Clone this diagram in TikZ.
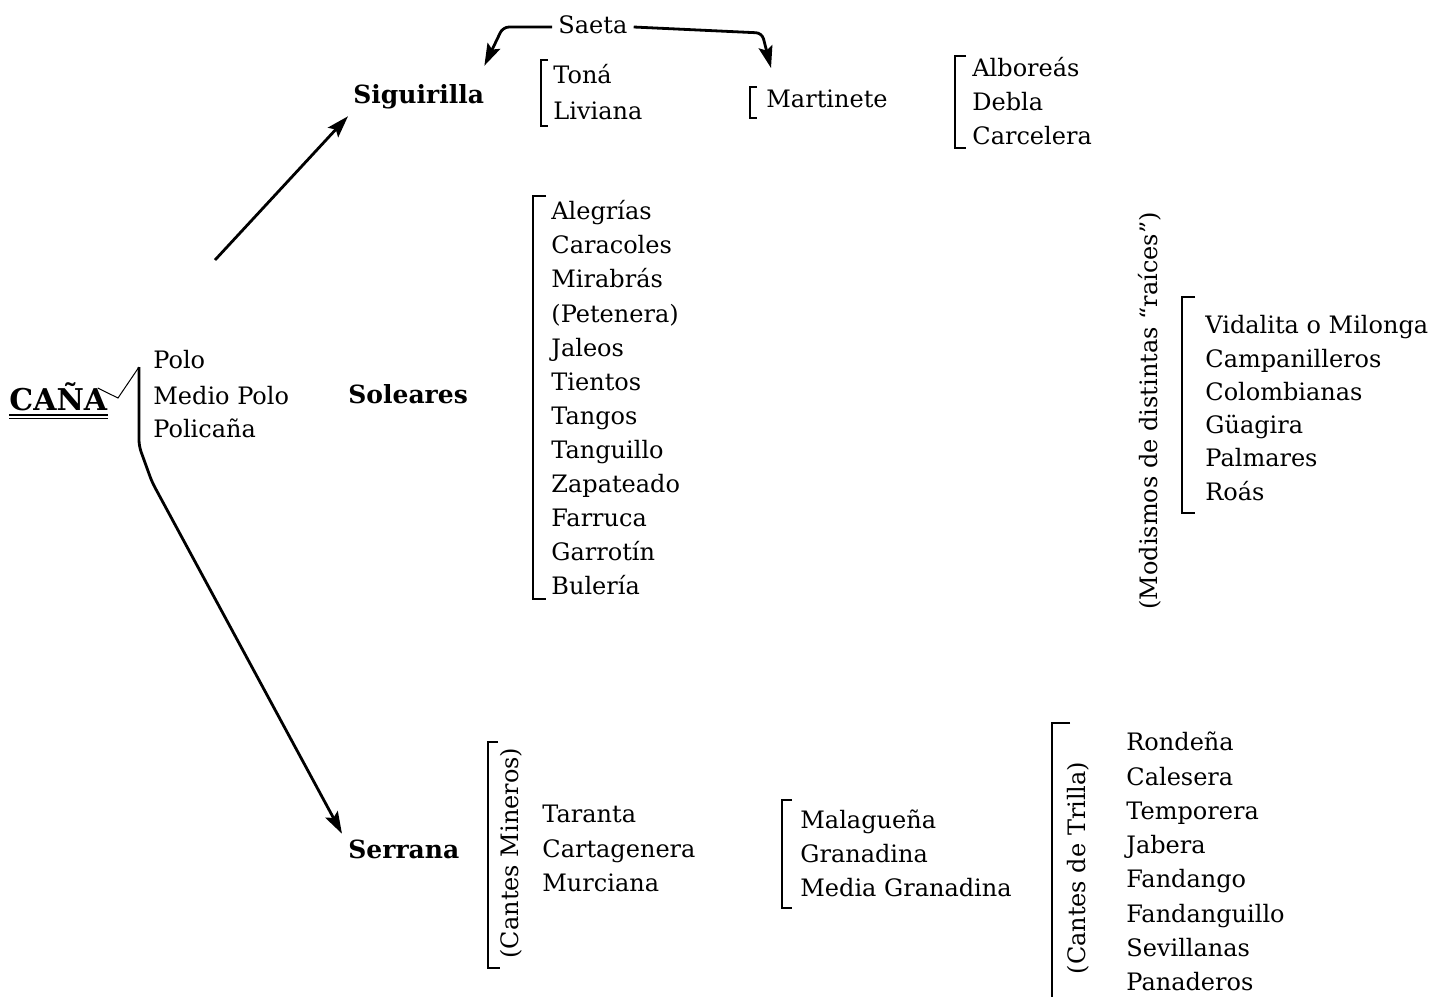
\documentclass[tikz,border=0pt]{standalone}
\usepackage{fontspec}
\setmainfont{DejaVu Serif}
\usetikzlibrary{arrows.meta}
\begin{document}
\begin{tikzpicture}[x=0.5pt,y=-0.5pt,
  item/.style={anchor=west,inner sep=0pt,font=\fontsize{12}{14}\selectfont,text height=1.6ex,text depth=0.3ex},
  head/.style={anchor=west,inner sep=0pt,font=\bfseries\fontsize{12.5}{15}\selectfont,text height=1.6ex,text depth=0.3ex},
  vlabel/.style={rotate=90,inner sep=0pt,font=\fontsize{12}{14}\selectfont},
  bk/.style={line width=1.3pt},
  arr/.style={line width=1.4pt,rounded corners=3pt,-{Stealth[length=11pt,width=7pt,inset=2pt]}},
  thinline/.style={line width=0.5pt}]

\useasboundingbox (0,0) rectangle (1443,997);
\fill[white] (0,0) rectangle (1443,997);

% --- CAÑA ---
\node[anchor=base west,inner sep=0pt,font=\bfseries\fontsize{15}{18}\selectfont] (cana) at (9,410) {CAÑA};
\draw[line width=1.2pt] ([yshift=-2.4pt]cana.base west) -- ([yshift=-2.4pt]cana.base east);
\draw[line width=0.6pt] ([yshift=-4.4pt]cana.base west) -- ([yshift=-4.4pt]cana.base east);
\draw[thinline] ([shift={(-10,-22)}]cana.base east) -- (118,398) -- (139,367);

% Polo group
\node[item] (polo) at (153,362) {Polo};
\node[item] (medio) at (153,398) {Medio Polo};
\node[item] (polic) at (153,431) {Policaña};

% --- Heads ---
\node[head] (sig) at (353,97) {Siguirilla};
\node[head] (sol) at (348,397) {Soleares};
\node[head] (serr) at (348,852) {Serrana};

% Saeta
\node[item] (saeta) at (558,27) {Saeta};
\draw[arr] ([xshift=-3pt]saeta.west) -- (503,27) -- ([shift={(0,-21)}]sig.north east);
\draw[arr] ([xshift=3pt]saeta.east) -- (762,33) -- (771,68);

% arrows from CAÑA
\coordinate (up0) at (215,260);
\draw[arr] (up0) -- ([shift={(-5,9)}]sig.south west);
\draw[arr] (139,367) -- (139,446) -- (152,482) -- ([shift={(-6,-8)}]serr.north west);

% Toná / Liviana
\draw[bk] (548,60) -- (541,60) -- (541,126) -- (548,126);
\node[item] (tona) at (553,77) {Toná};
\node[item] (livi) at (553,113) {Liviana};

% Martinete
\draw[bk] (757,87) -- (750,87) -- (750,118) -- (757,118);
\node[item] (mart) at (766,101) {Martinete};

% Alboreás
\draw[bk] (966,56) -- (955,56) -- (955,148) -- (966,148);
\foreach \t [count=\i from 0] in {Alboreás,Debla,Carcelera}
  \node[item] (alb\i) at (972,{70+34*\i}) {\t};

% Soleares list
\draw[bk] (546,196) -- (533,196) -- (533,599) -- (546,599);
\foreach \t [count=\i from 0] in {Alegrías,Caracoles,Mirabrás,(Petenera),Jaleos,Tientos,Tangos,Tanguillo,Zapateado,Farruca,Garrotín,Bulería}
  \node[item] (sl\i) at (551,{213+34.1*\i}) {\t};

% Modismos
\node[vlabel] (mod) at (1150,411) {(Modismos de distintas “raíces”)};
\draw[bk] (1195,297) -- (1182,297) -- (1182,513) -- (1195,513);
\foreach \t [count=\i from 0] in {Vidalita o Milonga,Campanilleros,Colombianas,Güagira,Palmares,Roás}
  \node[item] (md\i) at (1205,{327+33.3*\i}) {\t};

% Cantes Mineros
\draw[bk] (498,742) -- (488,742) -- (488,968) -- (500,968);
\node[vlabel] (min) at (511,853) {(Cantes Mineros)};
\foreach \t [count=\i from 0] in {Taranta,Cartagenera,Murciana}
  \node[item] (mi\i) at (542,{816+34.5*\i}) {\t};

% Malagueña
\draw[bk] (792,800) -- (782,800) -- (782,908) -- (792,908);
\foreach \t [count=\i from 0] in {Malagueña,Granadina,Media Granadina}
  \node[item] (ml\i) at (800,{822+34*\i}) {\t};

% Cantes de Trilla
\draw[bk] (1070,723) -- (1052,723) -- (1052,997);
\node[vlabel] (tri) at (1078,868) {(Cantes de Trilla)};
\foreach \t [count=\i from 0] in {Rondeña,Calesera,Temporera,Jabera,Fandango,Fandanguillo,Sevillanas,Panaderos}
  \node[item] (tr\i) at (1126,{744+34.3*\i}) {\t};

\end{tikzpicture}
\end{document}
